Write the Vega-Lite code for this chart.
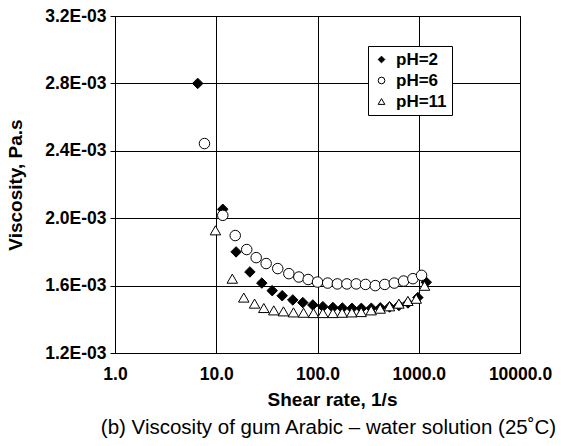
{
  "$schema": "https://vega.github.io/schema/vega-lite/v6.json",
  "width": 405,
  "height": 337,
  "autosize": {"type": "none"},
  "padding": {"left": 115, "top": 16, "right": 41, "bottom": 93},
  "background": "white",
  "title": {
    "text": "(b) Viscosity of gum Arabic \u2013 water solution (25\u02daC)",
    "orient": "bottom",
    "anchor": "middle",
    "frame": "group",
    "dx": 11,
    "font": "Liberation Sans",
    "fontSize": 20.5,
    "fontWeight": "normal",
    "color": "black",
    "offset": 8
  },
  "data": {
    "values": [
      {"pH": "pH=2", "rate": 6.56, "visc": 0.00280},
      {"pH": "pH=2", "rate": 11.6, "visc": 0.002053},
      {"pH": "pH=2", "rate": 15.7, "visc": 0.00180},
      {"pH": "pH=2", "rate": 21.5, "visc": 0.001681},
      {"pH": "pH=2", "rate": 28.2, "visc": 0.001615},
      {"pH": "pH=2", "rate": 35.7, "visc": 0.00157},
      {"pH": "pH=2", "rate": 44.8, "visc": 0.00154},
      {"pH": "pH=2", "rate": 57.0, "visc": 0.001515},
      {"pH": "pH=2", "rate": 71.6, "visc": 0.001499},
      {"pH": "pH=2", "rate": 89.9, "visc": 0.001485},
      {"pH": "pH=2", "rate": 113, "visc": 0.001475},
      {"pH": "pH=2", "rate": 142, "visc": 0.00147},
      {"pH": "pH=2", "rate": 176, "visc": 0.001467},
      {"pH": "pH=2", "rate": 219, "visc": 0.001465},
      {"pH": "pH=2", "rate": 271, "visc": 0.001465},
      {"pH": "pH=2", "rate": 340, "visc": 0.001466},
      {"pH": "pH=2", "rate": 417, "visc": 0.001468},
      {"pH": "pH=2", "rate": 515, "visc": 0.001473},
      {"pH": "pH=2", "rate": 637, "visc": 0.001482},
      {"pH": "pH=2", "rate": 783, "visc": 0.001497},
      {"pH": "pH=2", "rate": 980, "visc": 0.001529},
      {"pH": "pH=2", "rate": 1186, "visc": 0.00162},
      {"pH": "pH=6", "rate": 7.65, "visc": 0.002443},
      {"pH": "pH=6", "rate": 11.6, "visc": 0.002017},
      {"pH": "pH=6", "rate": 15.4, "visc": 0.001897},
      {"pH": "pH=6", "rate": 20.0, "visc": 0.001814},
      {"pH": "pH=6", "rate": 24.8, "visc": 0.001766},
      {"pH": "pH=6", "rate": 31.1, "visc": 0.001731},
      {"pH": "pH=6", "rate": 40.5, "visc": 0.001701},
      {"pH": "pH=6", "rate": 52.1, "visc": 0.001671},
      {"pH": "pH=6", "rate": 65.4, "visc": 0.001651},
      {"pH": "pH=6", "rate": 80.9, "visc": 0.001636},
      {"pH": "pH=6", "rate": 100, "visc": 0.001621},
      {"pH": "pH=6", "rate": 126, "visc": 0.001615},
      {"pH": "pH=6", "rate": 157, "visc": 0.00161},
      {"pH": "pH=6", "rate": 195, "visc": 0.00161},
      {"pH": "pH=6", "rate": 241, "visc": 0.00161},
      {"pH": "pH=6", "rate": 298, "visc": 0.001607},
      {"pH": "pH=6", "rate": 372, "visc": 0.0016},
      {"pH": "pH=6", "rate": 462, "visc": 0.001607},
      {"pH": "pH=6", "rate": 573, "visc": 0.001615},
      {"pH": "pH=6", "rate": 708, "visc": 0.001627},
      {"pH": "pH=6", "rate": 875, "visc": 0.001641},
      {"pH": "pH=6", "rate": 1066, "visc": 0.001661},
      {"pH": "pH=11", "rate": 9.82, "visc": 0.001928},
      {"pH": "pH=11", "rate": 14.4, "visc": 0.001641},
      {"pH": "pH=11", "rate": 18.7, "visc": 0.001529},
      {"pH": "pH=11", "rate": 23.9, "visc": 0.001493},
      {"pH": "pH=11", "rate": 29.5, "visc": 0.001467},
      {"pH": "pH=11", "rate": 37.0, "visc": 0.001453},
      {"pH": "pH=11", "rate": 46.1, "visc": 0.001447},
      {"pH": "pH=11", "rate": 57.9, "visc": 0.001441},
      {"pH": "pH=11", "rate": 72.8, "visc": 0.001439},
      {"pH": "pH=11", "rate": 91.3, "visc": 0.001437},
      {"pH": "pH=11", "rate": 113, "visc": 0.001437},
      {"pH": "pH=11", "rate": 142, "visc": 0.001437},
      {"pH": "pH=11", "rate": 175, "visc": 0.001439},
      {"pH": "pH=11", "rate": 218, "visc": 0.001441},
      {"pH": "pH=11", "rate": 270, "visc": 0.001443},
      {"pH": "pH=11", "rate": 339, "visc": 0.001453},
      {"pH": "pH=11", "rate": 416, "visc": 0.001463},
      {"pH": "pH=11", "rate": 514, "visc": 0.001477},
      {"pH": "pH=11", "rate": 636, "visc": 0.001493},
      {"pH": "pH=11", "rate": 781, "visc": 0.001509},
      {"pH": "pH=11", "rate": 944, "visc": 0.001522},
      {"pH": "pH=11", "rate": 1141, "visc": 0.001599}
    ]
  },
  "mark": {"type": "point", "filled": false, "strokeWidth": 1, "opacity": 1, "size": 110, "clip": false},
  "encoding": {
    "x": {
      "field": "rate",
      "type": "quantitative",
      "scale": {"type": "log", "domain": [1, 10000], "nice": false},
      "axis": {
        "values": [1, 10, 100, 1000, 10000],
        "format": ".1f",
        "title": "Shear rate, 1/s",
        "labelFlush": false,
        "ticks": false,
        "labelPadding": 12,
        "titlePadding": 8,
        "titleX": 217
      }
    },
    "y": {
      "field": "visc",
      "type": "quantitative",
      "scale": {"domain": [0.0012, 0.0032], "nice": false, "zero": false},
      "axis": {
        "values": [0.0012, 0.0016, 0.002, 0.0024, 0.0028, 0.0032],
        "labelExpr": "format(datum.value*1000, '.1f') + 'E-03'",
        "title": "Viscosity, Pa.s",
        "tickSize": 5,
        "labelPadding": 4,
        "titlePadding": 19
      }
    },
    "shape": {
      "field": "pH",
      "type": "nominal",
      "scale": {"domain": ["pH=2", "pH=6", "pH=11"], "range": ["diamond", "circle", "triangle-up"]},
      "legend": {"title": null}
    },
    "fill": {
      "field": "pH",
      "type": "nominal",
      "scale": {"domain": ["pH=2", "pH=6", "pH=11"], "range": ["black", "white", "white"]},
      "legend": {"title": null}
    },
    "stroke": {
      "field": "pH",
      "type": "nominal",
      "scale": {"domain": ["pH=2", "pH=6", "pH=11"], "range": ["black", "black", "black"]},
      "legend": {"title": null}
    }
  },
  "config": {
    "font": "Liberation Sans",
    "view": {"stroke": "black", "strokeWidth": 1},
    "axis": {
      "gridColor": "black",
      "gridOpacity": 1,
      "gridWidth": 1,
      "domainColor": "black",
      "tickColor": "black",
      "labelFont": "Liberation Sans",
      "labelFontSize": 17.5,
      "labelFontWeight": "bold",
      "labelColor": "black",
      "titleFont": "Liberation Sans",
      "titleFontSize": 19,
      "titleFontWeight": "bold",
      "titleColor": "black"
    },
    "legend": {
      "orient": "none",
      "legendX": 253,
      "legendY": 30,
      "strokeColor": "black",
      "fillColor": "white",
      "padding": 5,
      "labelFont": "Liberation Sans",
      "labelFontSize": 17,
      "labelFontWeight": "bold",
      "labelColor": "black",
      "symbolSize": 45,
      "symbolStrokeWidth": 1,
      "rowPadding": 3,
      "labelOffset": 6
    }
  }
}
